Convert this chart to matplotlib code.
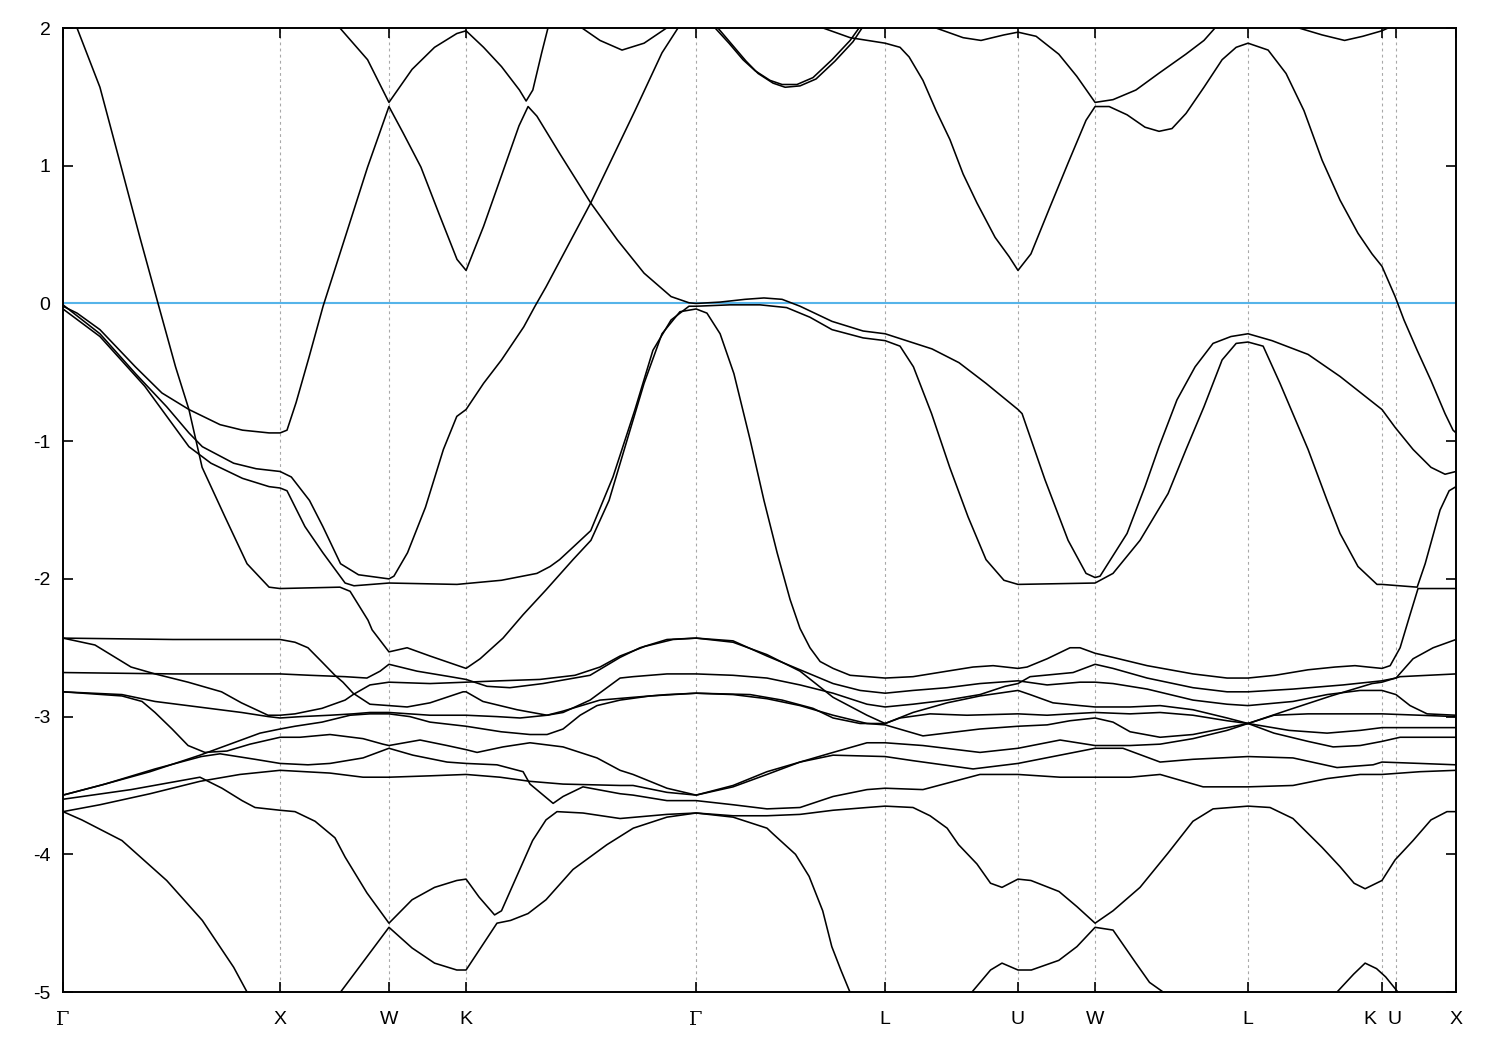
import matplotlib as mpl
mpl.use('Agg')
import matplotlib.pyplot as plt
import matplotlib.transforms as mtransforms

plt.rcParams['font.family'] = ['Liberation Sans', 'DejaVu Sans']

# high-symmetry points along the path (units of 2pi/a)
kpts = [0.0, 1.005, 1.509, 1.866, 2.931, 3.806, 4.421, 4.778, 5.486, 6.106, 6.171, 6.449]
klabels = ['Γ', 'X', 'W', 'K', 'Γ', 'L', 'U', 'W', 'L', 'K', 'U', 'X']
yticks = [-5, -4, -3, -2, -1, 0, 1, 2]
e_fermi = 0.0

# bands as (k, E)
band_steep = [(0.065, 2.00), (0.171, 1.57), (0.273, 0.97), (0.356, 0.48), (0.440, 0.00), (0.521, -0.46),
              (0.583, -0.77), (0.644, -1.19), (0.750, -1.55), (0.852, -1.89), (0.954, -2.06), (1.005, -2.07),
              (1.282, -2.06), (1.329, -2.09), (1.412, -2.30), (1.431, -2.37), (1.509, -2.53), (1.593, -2.50),
              (1.699, -2.56), (1.866, -2.65), (1.931, -2.58), (2.037, -2.43), (2.130, -2.26), (2.236, -2.08),
              (2.361, -1.86), (2.444, -1.72), (2.528, -1.43), (2.606, -1.02), (2.690, -0.58), (2.773, -0.22),
              (2.856, -0.06), (2.931, -0.04), (2.981, -0.07), (3.042, -0.22), (3.106, -0.51), (3.181, -0.99),
              (3.245, -1.43), (3.306, -1.81), (3.366, -2.15), (3.412, -2.36), (3.458, -2.50), (3.505, -2.60),
              (3.565, -2.65), (3.644, -2.70), (3.806, -2.72), (3.935, -2.71), (4.093, -2.67), (4.213, -2.64),
              (4.306, -2.63), (4.421, -2.65), (4.463, -2.64), (4.556, -2.58), (4.662, -2.50), (4.708, -2.50),
              (4.778, -2.54), (4.861, -2.57), (5.019, -2.63), (5.125, -2.66), (5.231, -2.69), (5.389, -2.72),
              (5.486, -2.72), (5.611, -2.70), (5.764, -2.66), (5.889, -2.64), (5.981, -2.63), (6.042, -2.64),
              (6.106, -2.65), (6.144, -2.63), (6.190, -2.50), (6.236, -2.26), (6.273, -2.07), (6.449, -2.07)]

band_v1 = [(0.0, -0.02), (0.065, -0.07), (0.171, -0.19), (0.335, -0.46), (0.458, -0.65), (0.583, -0.77),
           (0.727, -0.88), (0.831, -0.92), (0.954, -0.94), (1.005, -0.94), (1.037, -0.92), (1.079, -0.72),
           (1.139, -0.39), (1.204, -0.02), (1.306, 0.48), (1.410, 0.99), (1.509, 1.43), (1.574, 1.24),
           (1.657, 0.99), (1.741, 0.65), (1.824, 0.32), (1.866, 0.24), (1.947, 0.56), (2.028, 0.92),
           (2.111, 1.29), (2.153, 1.43), (2.194, 1.36), (2.299, 1.09), (2.443, 0.73), (2.567, 0.46),
           (2.690, 0.22), (2.815, 0.05), (2.898, 0.005), (2.931, 0.0), (3.042, 0.01), (3.157, 0.03),
           (3.245, 0.04), (3.329, 0.03), (3.412, -0.02), (3.560, -0.13), (3.704, -0.20), (3.806, -0.22),
           (4.023, -0.33), (4.148, -0.43), (4.273, -0.58), (4.421, -0.77), (4.440, -0.80), (4.546, -1.28),
           (4.653, -1.72), (4.736, -1.96), (4.778, -1.99), (4.801, -1.98), (4.926, -1.67), (5.009, -1.33),
           (5.074, -1.04), (5.157, -0.70), (5.241, -0.46), (5.324, -0.29), (5.407, -0.24), (5.486, -0.22),
           (5.597, -0.27), (5.764, -0.37), (5.912, -0.53), (6.106, -0.77), (6.167, -0.90), (6.250, -1.06),
           (6.333, -1.19), (6.398, -1.24), (6.449, -1.22)]

band_v2 = [(0.0, -0.01), (0.171, -0.22), (0.336, -0.51), (0.480, -0.75), (0.583, -0.94), (0.645, -1.04),
           (0.790, -1.16), (0.894, -1.20), (1.005, -1.22), (1.057, -1.26), (1.141, -1.43), (1.203, -1.62),
           (1.285, -1.89), (1.368, -1.97), (1.509, -2.00), (1.532, -1.98), (1.595, -1.81), (1.678, -1.48),
           (1.761, -1.06), (1.823, -0.82), (1.866, -0.77), (1.947, -0.58), (2.030, -0.41), (2.133, -0.17),
           (2.185, -0.02), (2.236, 0.12), (2.443, 0.73), (2.648, 1.40), (2.773, 1.82), (2.847, 2.0)]

band_v3 = [(0.0, -0.04), (0.171, -0.24), (0.378, -0.60), (0.583, -1.04), (0.685, -1.16), (0.831, -1.27),
           (0.954, -1.33), (1.005, -1.34), (1.037, -1.36), (1.120, -1.62), (1.203, -1.81), (1.306, -2.03),
           (1.347, -2.05), (1.509, -2.03), (1.824, -2.04), (2.030, -2.01), (2.194, -1.96), (2.255, -1.91),
           (2.299, -1.86), (2.361, -1.77), (2.443, -1.65), (2.546, -1.26), (2.648, -0.77), (2.731, -0.34),
           (2.815, -0.12), (2.898, -0.02), (2.931, -0.02), (3.088, -0.01), (3.227, -0.01), (3.350, -0.03),
           (3.458, -0.10), (3.560, -0.19), (3.704, -0.25), (3.806, -0.27), (3.875, -0.31), (3.937, -0.46),
           (4.021, -0.80), (4.105, -1.19), (4.190, -1.55), (4.273, -1.86), (4.356, -2.01), (4.421, -2.04),
           (4.778, -2.03), (4.861, -1.96), (4.986, -1.72), (5.116, -1.38), (5.199, -1.06), (5.282, -0.75),
           (5.366, -0.41), (5.431, -0.29), (5.486, -0.28), (5.556, -0.31), (5.634, -0.58), (5.764, -1.06),
           (5.852, -1.43), (5.912, -1.67), (5.995, -1.91), (6.083, -2.04), (6.106, -2.04), (6.269, -2.06),
           (6.306, -1.89), (6.375, -1.50), (6.417, -1.36), (6.449, -1.33)]

band_t1 = [(1.282, 2.0), (1.410, 1.77), (1.509, 1.46), (1.616, 1.70), (1.720, 1.86), (1.823, 1.96),
           (1.866, 1.98), (1.947, 1.86), (2.030, 1.72), (2.113, 1.55), (2.144, 1.47), (2.175, 1.55),
           (2.216, 1.82), (2.245, 2.0)]
band_t2 = [(2.403, 2.0), (2.486, 1.91), (2.588, 1.84), (2.690, 1.89), (2.794, 2.0)]
band_t3a = [(3.019, 2.0), (3.083, 1.89), (3.148, 1.77), (3.204, 1.69), (3.273, 1.62), (3.329, 1.59),
            (3.398, 1.59), (3.472, 1.64), (3.560, 1.77), (3.644, 1.91), (3.685, 2.0)]
band_t3b = [(3.032, 2.0), (3.097, 1.88), (3.162, 1.76), (3.218, 1.67), (3.287, 1.60), (3.343, 1.57),
            (3.412, 1.58), (3.486, 1.63), (3.574, 1.76), (3.657, 1.90), (3.699, 2.0)]
band_t4 = [(3.519, 2.0), (3.644, 1.93), (3.806, 1.89), (3.875, 1.86), (3.917, 1.79), (3.981, 1.62),
           (4.042, 1.40), (4.106, 1.19), (4.167, 0.94), (4.231, 0.73), (4.315, 0.48), (4.380, 0.34),
           (4.421, 0.24), (4.481, 0.36), (4.569, 0.70), (4.653, 1.02), (4.736, 1.33), (4.778, 1.43),
           (4.843, 1.43), (4.926, 1.37), (5.009, 1.28), (5.074, 1.25), (5.134, 1.27), (5.199, 1.38),
           (5.282, 1.57), (5.366, 1.77), (5.431, 1.86), (5.486, 1.89), (5.579, 1.84), (5.662, 1.67),
           (5.745, 1.40), (5.829, 1.04), (5.912, 0.75), (5.995, 0.51), (6.060, 0.36), (6.106, 0.27),
           (6.167, 0.05), (6.208, -0.12), (6.269, -0.34), (6.333, -0.56), (6.398, -0.80), (6.435, -0.92),
           (6.449, -0.94)]
band_t5 = [(4.042, 2.0), (4.167, 1.93), (4.250, 1.91), (4.356, 1.95), (4.421, 1.97), (4.505, 1.94),
           (4.610, 1.81), (4.693, 1.65), (4.778, 1.46), (4.861, 1.48), (4.967, 1.55), (5.072, 1.67),
           (5.198, 1.81), (5.282, 1.91), (5.333, 2.0)]
band_t6 = [(5.722, 2.0), (5.829, 1.95), (5.933, 1.91), (6.017, 1.94), (6.106, 1.98), (6.134, 2.0)]

band_a = [(0.0, -2.43), (0.509, -2.44), (1.005, -2.44), (1.074, -2.46), (1.134, -2.50), (1.197, -2.60),
          (1.259, -2.70), (1.296, -2.75), (1.343, -2.83), (1.421, -2.91), (1.509, -2.92), (1.593, -2.93),
          (1.699, -2.90), (1.852, -2.82), (1.866, -2.82), (1.944, -2.89), (2.102, -2.95), (2.241, -2.99),
          (2.315, -2.97), (2.440, -2.88), (2.579, -2.72), (2.639, -2.71), (2.796, -2.69), (2.931, -2.69),
          (3.102, -2.70), (3.259, -2.72), (3.412, -2.77), (3.565, -2.83), (3.722, -2.91), (3.806, -2.93),
          (3.935, -2.91), (4.093, -2.88), (4.245, -2.84), (4.361, -2.78), (4.421, -2.76), (4.477, -2.71),
          (4.676, -2.68), (4.778, -2.62), (4.861, -2.65), (5.019, -2.72), (5.231, -2.79), (5.389, -2.82),
          (5.486, -2.82), (5.694, -2.80), (5.926, -2.77), (6.106, -2.74), (6.171, -2.72), (6.250, -2.58),
          (6.343, -2.50), (6.449, -2.44)]

band_c = [(0.0, -2.43), (0.148, -2.48), (0.315, -2.64), (0.426, -2.69), (0.579, -2.75), (0.734, -2.82),
          (0.826, -2.90), (0.949, -2.99), (1.005, -2.99), (1.074, -2.98), (1.199, -2.94), (1.306, -2.88),
          (1.343, -2.84), (1.421, -2.77), (1.509, -2.75), (1.699, -2.76), (1.866, -2.75), (2.023, -2.74),
          (2.208, -2.73), (2.370, -2.70), (2.486, -2.64), (2.579, -2.56), (2.694, -2.49), (2.824, -2.44),
          (2.931, -2.43), (3.102, -2.45), (3.259, -2.56), (3.412, -2.66), (3.565, -2.76), (3.690, -2.81),
          (3.806, -2.83), (3.935, -2.81), (4.093, -2.79), (4.245, -2.76), (4.421, -2.74), (4.556, -2.77),
          (4.708, -2.75), (4.778, -2.75), (4.861, -2.76), (5.019, -2.80), (5.125, -2.84), (5.231, -2.88),
          (5.389, -2.91), (5.486, -2.92), (5.694, -2.89), (5.852, -2.84), (6.005, -2.81), (6.106, -2.81),
          (6.171, -2.84), (6.236, -2.92), (6.315, -2.98), (6.449, -2.99)]

band_b = [(0.0, -2.68), (0.509, -2.69), (1.005, -2.69), (1.144, -2.70), (1.306, -2.71), (1.407, -2.72),
          (1.468, -2.67), (1.509, -2.62), (1.639, -2.67), (1.792, -2.71), (1.866, -2.73), (1.963, -2.78),
          (2.069, -2.79), (2.222, -2.76), (2.440, -2.70), (2.579, -2.57), (2.671, -2.50), (2.796, -2.44),
          (2.931, -2.43), (3.102, -2.46), (3.259, -2.55), (3.412, -2.67), (3.565, -2.86), (3.722, -2.99),
          (3.806, -3.05), (3.935, -2.97), (4.093, -2.90), (4.245, -2.85), (4.421, -2.81), (4.477, -2.84),
          (4.583, -2.90), (4.708, -2.92), (4.778, -2.93), (4.940, -2.93), (5.079, -2.92), (5.231, -2.95),
          (5.389, -3.01), (5.486, -3.05), (5.606, -2.99), (5.764, -2.98), (6.005, -2.98), (6.106, -2.98),
          (6.282, -2.99), (6.449, -3.00)]

band_d = [(0.0, -2.82), (0.273, -2.84), (0.426, -2.89), (0.627, -2.93), (0.827, -2.97), (0.951, -3.00),
          (1.005, -3.01), (1.102, -3.00), (1.236, -2.99), (1.343, -2.98), (1.421, -2.97), (1.509, -2.97),
          (1.699, -2.99), (1.866, -2.99), (2.009, -3.00), (2.116, -3.01), (2.241, -2.99), (2.315, -2.96),
          (2.486, -2.88), (2.639, -2.86), (2.796, -2.84), (2.931, -2.83), (3.102, -2.84), (3.259, -2.87),
          (3.412, -2.92), (3.565, -2.99), (3.722, -3.05), (3.806, -3.06), (3.981, -3.14), (4.245, -3.09),
          (4.421, -3.07), (4.556, -3.06), (4.662, -3.03), (4.778, -3.01), (4.861, -3.04), (4.940, -3.11),
          (5.079, -3.15), (5.231, -3.13), (5.389, -3.08), (5.486, -3.05), (5.676, -3.10), (5.852, -3.12),
          (6.005, -3.10), (6.106, -3.08), (6.282, -3.08), (6.449, -3.08)]

band_g = [(0.0, -3.57), (0.171, -3.50), (0.403, -3.40), (0.634, -3.28), (0.773, -3.20), (0.912, -3.12),
          (1.005, -3.09), (1.074, -3.07), (1.199, -3.04), (1.329, -2.99), (1.421, -2.98), (1.509, -2.98),
          (1.606, -3.00), (1.699, -3.04), (1.866, -3.07), (2.028, -3.11), (2.162, -3.13), (2.241, -3.13),
          (2.315, -3.09), (2.394, -2.99), (2.472, -2.92), (2.579, -2.88), (2.718, -2.85), (2.931, -2.83),
          (3.181, -2.84), (3.329, -2.88), (3.472, -2.94), (3.565, -3.01), (3.690, -3.05), (3.806, -3.05),
          (3.875, -3.01), (4.014, -2.98), (4.185, -2.99), (4.421, -2.98), (4.556, -2.99), (4.662, -2.98),
          (4.778, -2.97), (4.940, -2.98), (5.079, -2.97), (5.231, -2.99), (5.389, -3.03), (5.486, -3.05),
          (5.676, -2.95), (5.870, -2.85), (6.060, -2.76), (6.106, -2.75), (6.190, -2.71), (6.449, -2.69)]

band_e = [(0.0, -2.82), (0.273, -2.85), (0.366, -2.89), (0.426, -2.97), (0.505, -3.09), (0.579, -3.21),
          (0.657, -3.26), (0.759, -3.25), (0.866, -3.20), (1.005, -3.15), (1.097, -3.15), (1.236, -3.13),
          (1.389, -3.16), (1.481, -3.20), (1.509, -3.21), (1.653, -3.17), (1.778, -3.21), (1.866, -3.24),
          (1.917, -3.26), (2.037, -3.22), (2.162, -3.19), (2.315, -3.22), (2.472, -3.30), (2.579, -3.39),
          (2.639, -3.42), (2.796, -3.52), (2.931, -3.57), (3.102, -3.50), (3.259, -3.40), (3.412, -3.33),
          (3.565, -3.26), (3.722, -3.19), (3.806, -3.19), (3.981, -3.21), (4.245, -3.26), (4.421, -3.23),
          (4.616, -3.17), (4.778, -3.21), (4.940, -3.21), (5.079, -3.20), (5.231, -3.16), (5.389, -3.10),
          (5.486, -3.05), (5.606, -3.12), (5.764, -3.18), (5.880, -3.22), (6.005, -3.21), (6.106, -3.18),
          (6.190, -3.15), (6.449, -3.15)]

band_f = [(0.0, -3.57), (0.194, -3.49), (0.426, -3.38), (0.640, -3.29), (0.727, -3.27), (0.889, -3.31),
          (1.005, -3.34), (1.134, -3.35), (1.236, -3.34), (1.389, -3.30), (1.509, -3.23), (1.620, -3.28),
          (1.778, -3.33), (1.866, -3.34), (2.009, -3.35), (2.130, -3.40), (2.162, -3.49), (2.269, -3.63),
          (2.315, -3.58), (2.407, -3.51), (2.579, -3.56), (2.639, -3.57), (2.796, -3.61), (2.931, -3.61),
          (3.102, -3.64), (3.259, -3.67), (3.412, -3.66), (3.565, -3.58), (3.722, -3.53), (3.806, -3.52),
          (3.981, -3.53), (4.245, -3.42), (4.421, -3.42), (4.616, -3.44), (4.778, -3.44), (4.940, -3.44),
          (5.079, -3.42), (5.278, -3.51), (5.486, -3.51), (5.694, -3.50), (5.852, -3.45), (6.005, -3.42),
          (6.106, -3.42), (6.282, -3.40), (6.449, -3.39)]

band_i = [(0.0, -3.69), (0.171, -3.64), (0.403, -3.56), (0.634, -3.47), (0.819, -3.42), (1.005, -3.39),
          (1.236, -3.41), (1.389, -3.44), (1.509, -3.44), (1.699, -3.43), (1.866, -3.42), (2.023, -3.44),
          (2.162, -3.47), (2.315, -3.49), (2.579, -3.50), (2.639, -3.50), (2.796, -3.55), (2.931, -3.57),
          (3.102, -3.51), (3.259, -3.42), (3.412, -3.33), (3.565, -3.28), (3.806, -3.29), (3.935, -3.32),
          (4.213, -3.38), (4.421, -3.34), (4.583, -3.29), (4.778, -3.23), (4.907, -3.23), (5.079, -3.33),
          (5.231, -3.31), (5.486, -3.29), (5.694, -3.30), (5.898, -3.37), (6.065, -3.35), (6.106, -3.33),
          (6.282, -3.34), (6.449, -3.35)]

band_h = [(0.0, -3.60), (0.315, -3.53), (0.634, -3.44), (0.736, -3.52), (0.829, -3.61), (0.889, -3.66),
          (1.005, -3.68), (1.074, -3.69), (1.167, -3.76), (1.259, -3.88), (1.306, -4.02), (1.407, -4.28),
          (1.509, -4.50), (1.616, -4.33), (1.720, -4.24), (1.823, -4.19), (1.866, -4.18), (1.926, -4.31),
          (1.998, -4.44), (2.030, -4.41), (2.092, -4.19), (2.174, -3.90), (2.236, -3.75), (2.287, -3.69),
          (2.407, -3.70), (2.579, -3.74), (2.796, -3.71), (2.931, -3.70), (3.102, -3.72), (3.259, -3.72),
          (3.412, -3.71), (3.565, -3.68), (3.722, -3.66), (3.806, -3.65), (3.935, -3.66), (4.014, -3.72),
          (4.093, -3.81), (4.146, -3.93), (4.231, -4.07), (4.294, -4.21), (4.347, -4.24), (4.421, -4.18),
          (4.481, -4.19), (4.611, -4.27), (4.694, -4.38), (4.778, -4.50), (4.861, -4.41), (4.986, -4.24),
          (5.116, -3.99), (5.231, -3.76), (5.324, -3.67), (5.486, -3.65), (5.588, -3.66), (5.694, -3.74),
          (5.829, -3.95), (5.912, -4.09), (5.977, -4.21), (6.028, -4.25), (6.106, -4.19), (6.167, -4.04),
          (6.250, -3.90), (6.333, -3.75), (6.407, -3.69), (6.449, -3.69)]

band_j = [(0.0, -3.69), (0.087, -3.75), (0.273, -3.90), (0.480, -4.19), (0.645, -4.48), (0.790, -4.82),
          (0.852, -5.0), (0.870, -5.06)]

band_low1 = [(1.270, -5.08), (1.285, -5.0), (1.409, -4.74), (1.509, -4.53), (1.616, -4.68), (1.720, -4.79),
             (1.823, -4.84), (1.866, -4.84), (2.009, -4.50), (2.072, -4.48), (2.153, -4.43), (2.236, -4.33),
             (2.361, -4.11), (2.518, -3.93), (2.640, -3.81), (2.796, -3.73), (2.931, -3.70), (3.102, -3.73),
             (3.259, -3.81), (3.286, -3.85), (3.391, -4.00), (3.454, -4.16), (3.517, -4.41), (3.559, -4.67),
             (3.601, -4.84), (3.643, -5.0), (3.655, -5.05)]
band_low2 = [(4.195, -5.08), (4.208, -5.0), (4.294, -4.84), (4.347, -4.79), (4.421, -4.84), (4.483, -4.84),
             (4.610, -4.77), (4.694, -4.67), (4.778, -4.53), (4.861, -4.55), (4.967, -4.79), (5.030, -4.93),
             (5.093, -5.0), (5.110, -5.05)]
band_low3 = [(5.880, -5.08), (5.892, -5.01), (5.975, -4.87), (6.028, -4.79), (6.081, -4.83), (6.123, -4.89),
             (6.185, -5.01), (6.195, -5.06)]

bands = [band_steep, band_v1, band_v2, band_v3, band_t1, band_t2, band_t3a, band_t3b, band_t4,
         band_t5, band_t6, band_a, band_c, band_b, band_d, band_g, band_e, band_f, band_i, band_h,
         band_j, band_low1, band_low2, band_low3]

fig = plt.figure(figsize=(15, 10.5), dpi=100)
ax = fig.add_axes([0.042, 0.0552, 0.9287, 0.9181])

for kp in kpts[1:-1]:
    ax.axvline(kp, color='#a8a8a8', lw=0.8, dashes=(2.5, 3), zorder=1)
ax.axhline(e_fermi, color='#56b4e9', lw=1.5, zorder=2)

for b in bands:
    k, e = zip(*b)
    ax.plot(k, e, color='black', lw=1.15, zorder=3)

ax.set_xlim(kpts[0], kpts[-1])
ax.set_ylim(-5, 2)
ax.set_xticks(kpts)
ax.set_xticklabels(klabels)
ax.set_yticks(yticks)
ax.set_yticklabels([str(v) for v in yticks])
ax.tick_params(direction='in', length=7, width=1.2, top=True, right=True, labelsize=14)
ax.tick_params(axis='x', pad=14)
ax.tick_params(axis='y', pad=9)
xlabs = ax.get_xticklabels()
for t in xlabs:
    if t.get_text() == 'Γ':
        t.set_fontfamily('DejaVu Serif')
# the K|U pair sits very close: nudge K a little left like the original
xlabs[9].set_transform(xlabs[9].get_transform() +
                       mtransforms.ScaledTranslation(-9 / 72, 0, fig.dpi_scale_trans))
xlabs[10].set_transform(xlabs[10].get_transform() +
                        mtransforms.ScaledTranslation(-1 / 72, 0, fig.dpi_scale_trans))
for s in ax.spines.values():
    s.set_linewidth(1.4)

fig.savefig('out.png', dpi=100)
